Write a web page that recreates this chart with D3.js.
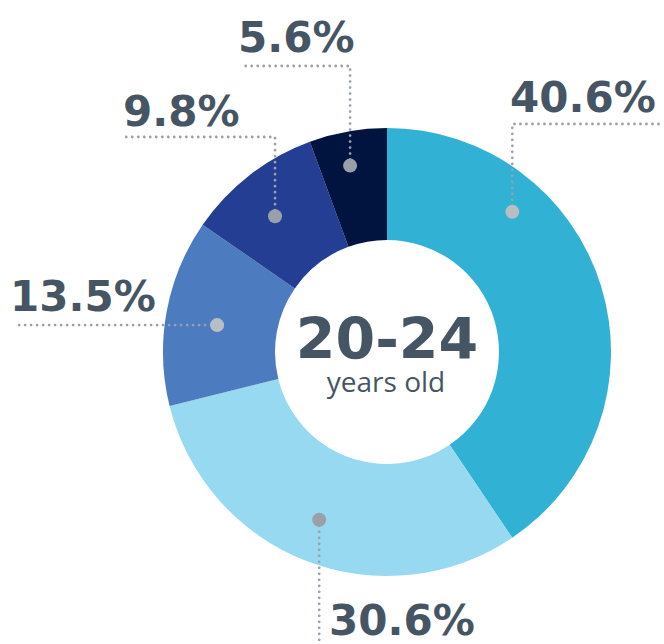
<!DOCTYPE html>
<html>
<head>
<meta charset="utf-8">
<script src="https://cdn.jsdelivr.net/npm/d3@7"></script>
<style>
  body { margin: 0; background: #fff; }
  svg { display: block; }
</style>
</head>
<body>
<div id="chart"></div>
<script>
// data
var categories = ["A", "B", "C", "D", "E"];
var values = [40.6, 30.6, 13.5, 9.8, 5.6];
var valueLabels = ["40.6%", "30.6%", "13.5%", "9.8%", "5.6%"];
var colors = ["#31b1d4", "#97d9f0", "#4c7bbf", "#233e93", "#01133f"];
var centerTitle = "20-24";
var centerSub = "years old";

// where each label sits (angle in degrees from 12 o'clock, dot radius, leader path, text spot)
var labelLayout = [
  { angle: 41.8, r: 188, leader: [["v", 124], ["h", 664]], tx: 510, ty: 112 },
  { angle: 202, r: 181, leader: [["v", 644]], tx: 329, ty: 635 },
  { angle: -81, r: 172, leader: [["h", 16]], tx: 10, ty: 311 },
  { angle: -39.5, r: 176, leader: [["v", 137], ["h", 125]], tx: 123, ty: 126 },
  { angle: -11.2, r: 190, leader: [["v", 66], ["h", 240]], tx: 238, ty: 52 }
];

var width = 664, height = 644;
var cx = 387, cy = 352;
var outerR = 224, innerR = 112;

var svg = d3.select("#chart")
  .append("svg")
  .attr("width", width)
  .attr("height", height);

var pie = d3.pie().sort(null).value(function (d) { return d; });
var arc = d3.arc().innerRadius(innerR).outerRadius(outerR);

var g = svg.append("g").attr("transform", "translate(" + cx + "," + cy + ")");

g.selectAll("path.slice")
  .data(pie(values))
  .enter()
  .append("path")
  .attr("class", "slice")
  .attr("d", arc)
  .attr("fill", function (d, i) { return colors[i]; });

// leader lines + dots
labelLayout.forEach(function (l, i) {
  var a = l.angle * Math.PI / 180;
  var x = cx + l.r * Math.sin(a);
  var y = cy - l.r * Math.cos(a);
  var pts = [[x, y]];
  var px = x, py = y;
  l.leader.forEach(function (s) {
    if (s[0] == "v") py = s[1]; else px = s[1];
    pts.push([px, py]);
  });
  svg.append("path")
    .attr("d", d3.line()(pts))
    .attr("fill", "none")
    .attr("stroke", "#99a1ac")
    .attr("stroke-width", 2.8)
    .attr("stroke-linecap", "round")
    .attr("stroke-dasharray", "0 6");
  svg.append("circle")
    .attr("cx", x)
    .attr("cy", y)
    .attr("r", 7)
    .attr("fill", i == 0 || i == 2 ? "#b9bdc4" : "#9aa0a9");

  svg.append("text")
    .attr("x", l.tx)
    .attr("y", l.ty)
    .attr("font-family", "DejaVu Sans")
    .attr("font-weight", "bold")
    .attr("font-size", 42)
    .attr("fill", "#465563")
    .text(valueLabels[i]);
});

// centre text
svg.append("text")
  .attr("x", cx)
  .attr("y", 359)
  .attr("text-anchor", "middle")
  .attr("font-family", "DejaVu Sans")
  .attr("font-weight", "bold")
  .attr("font-size", 57)
  .attr("fill", "#465563")
  .text(centerTitle);

svg.append("text")
  .attr("x", cx - 1)
  .attr("y", 392)
  .attr("text-anchor", "middle")
  .attr("font-family", "Open Sans")
  .attr("font-size", 28)
  .attr("fill", "#465563")
  .text(centerSub);
</script>
</body>
</html>
